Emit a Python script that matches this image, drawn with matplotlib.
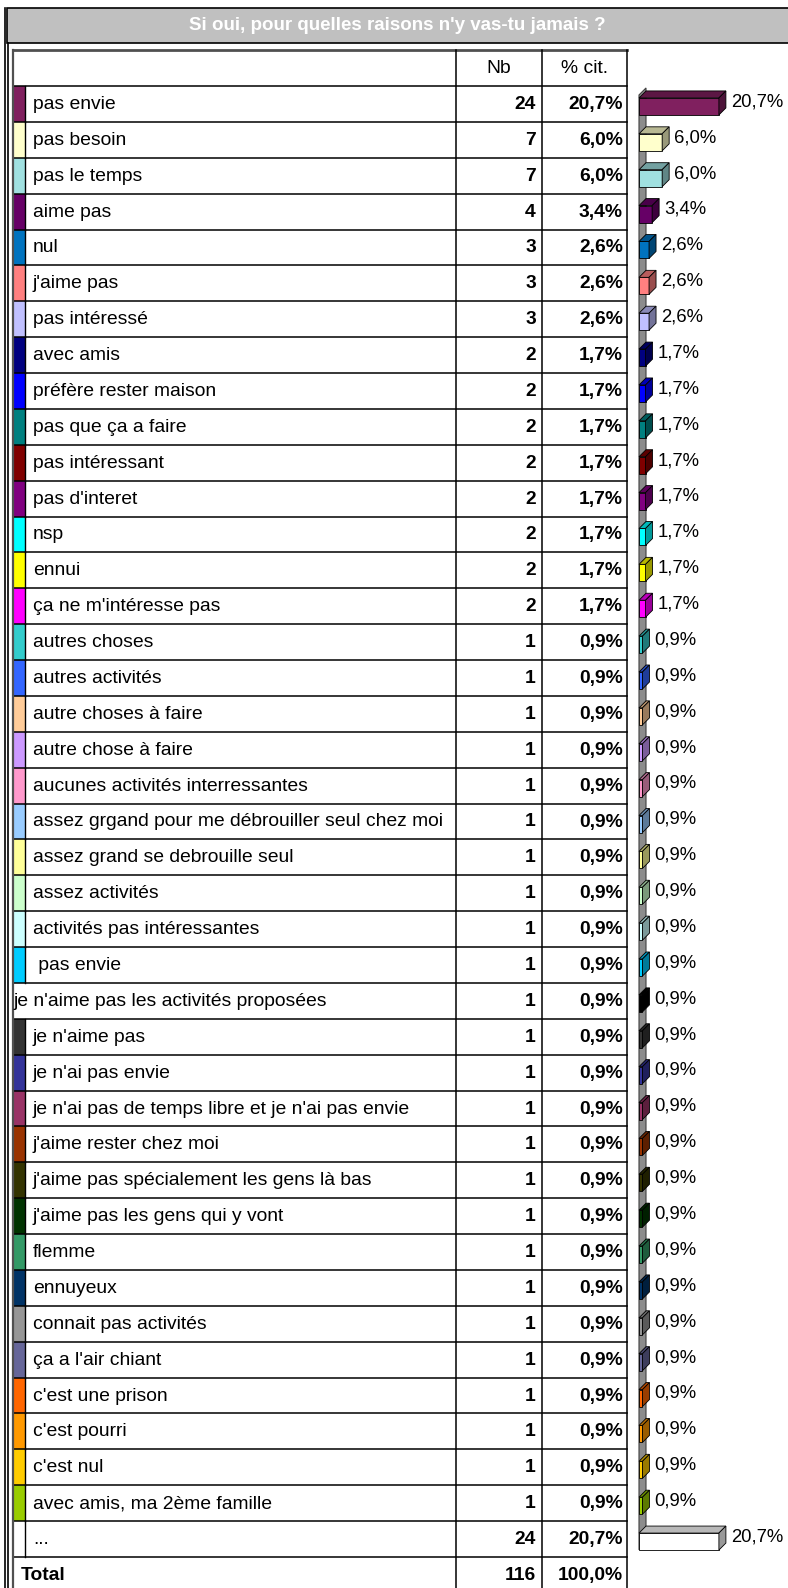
import matplotlib
matplotlib.use("Agg")
import matplotlib.pyplot as plt
import matplotlib.colors as mcolors
from matplotlib.patches import Rectangle, Polygon

plt.rcParams["font.family"] = ["Liberation Sans", "DejaVu Sans"]

TITLE = "Si oui, pour quelles raisons n'y vas-tu jamais ?"
HEADERS = ["Nb", "% cit."]

LABELS = [
    "pas envie", "pas besoin", "pas le temps", "aime pas", "nul", "j'aime pas",
    "pas intéressé", "avec amis", "préfère rester maison", "pas que ça a faire",
    "pas intéressant", "pas d'interet", "nsp", "ennui", "ça ne m'intéresse pas",
    "autres choses", "autres activités", "autre choses à faire", "autre chose à faire",
    "aucunes activités interressantes", "assez grgand pour me débrouiller seul chez moi",
    "assez grand se debrouille seul", "assez activités", "activités pas intéressantes",
    " pas envie", "je n'aime pas les activités proposées", "je n'aime pas",
    "je n'ai pas envie", "je n'ai pas de temps libre et je n'ai pas envie",
    "j'aime rester chez moi", "j'aime pas spécialement les gens là bas",
    "j'aime pas les gens qui y vont", "flemme", "ennuyeux", "connait pas activités",
    "ça a l'air chiant", "c'est une prison", "c'est pourri", "c'est nul",
    "avec amis, ma 2ème famille", "...",
]
COUNTS = [24, 7, 7, 4, 3, 3, 3, 2, 2, 2, 2, 2, 2, 2, 2] + [1] * 25 + [24]
PCTS = [20.7, 6.0, 6.0, 3.4, 2.6, 2.6, 2.6, 1.7, 1.7, 1.7, 1.7, 1.7, 1.7, 1.7, 1.7] \
    + [0.9] * 25 + [20.7]
COLORS = [
    "#80205F", "#FFFFCC", "#A0E0E0", "#660066", "#0073BF", "#FF8080", "#C0C0FF",
    "#000080", "#0000FF", "#008080", "#800000", "#800080", "#00FFFF", "#FFFF00",
    "#FF00FF", "#33CCCC", "#3366FF", "#FFCC99", "#CC99FF", "#FF99CC", "#99CCFF",
    "#FFFF99", "#CCFFCC", "#CCFFFF", "#00CCFF", "#000000", "#333333", "#333399",
    "#993366", "#993300", "#333300", "#003300", "#339966", "#003366", "#969696",
    "#666699", "#FF6600", "#FF9900", "#FFCC00", "#99CC00", "#FFFFFF",
]
NO_STRIP = {"je n'aime pas les activités proposées"}
TOTAL_NB = 116
TOTAL_PCT = 100.0

W, H = 788, 1588
ROW_H = (1557 - 86) / 41
TAB_TOP = 86
X_LEFT, X_STRIP, X_NB, X_PCT, X_RIGHT = 13, 25, 456, 542, 627
PX_PER_PCT = 3.86
FS = 13.9
TY = -1.5  # small upward nudge of cell text


def fmt_pct(v):
    return f"{v:.1f}%".replace(".", ",")


def darker(c, f=0.72):
    r, g, b = mcolors.to_rgb(c)
    return (r * f, g * f, b * f)


fig = plt.figure(figsize=(W / 100, H / 100), dpi=100)
ax = fig.add_axes([0, 0, 1, 1])
ax.set_xlim(0, W)
ax.set_ylim(H, 0)
ax.axis("off")

# outer frame + title bar
ax.add_patch(Rectangle((7, 8), W + 5 - 7, 35, facecolor="#C0C0C0", edgecolor="black",
                       lw=1.2, clip_on=False))
ax.plot([5.5, 5.5], [8, H], color="black", lw=1.2)
ax.plot([8.5, 8.5], [43, H], color="black", lw=1.2)
ax.text((7 + W) / 2, 25, TITLE, color="white", fontsize=13.5, fontweight="bold",
        ha="center", va="center")

n = len(LABELS)
tab_bottom = TAB_TOP + (n + 1) * ROW_H

# header
ax.plot([X_LEFT, X_RIGHT], [50, 50], color="#505050", lw=2)
ax.text((X_NB + X_PCT) / 2, 68 + TY, HEADERS[0], fontsize=FS, ha="center",
        va="center_baseline")
ax.text((X_PCT + X_RIGHT) / 2, 68 + TY, HEADERS[1], fontsize=FS, ha="center",
        va="center_baseline")

# rows
for i, (lab, nb, p, c) in enumerate(zip(LABELS, COUNTS, PCTS, COLORS)):
    y0 = TAB_TOP + i * ROW_H
    yc = y0 + ROW_H / 2 + TY
    if lab in NO_STRIP:
        ax.text(X_LEFT + 1, yc, lab, fontsize=FS, ha="left", va="center_baseline")
    else:
        ax.add_patch(Rectangle((X_LEFT, y0), X_STRIP - X_LEFT, ROW_H,
                               facecolor=c, edgecolor="none"))
        ax.plot([X_STRIP, X_STRIP], [y0, y0 + ROW_H], color="black", lw=1)
        ax.text(X_STRIP + 8, yc, lab, fontsize=FS, ha="left", va="center_baseline")
    ax.text(X_PCT - 6, yc, str(nb), fontsize=FS, fontweight="bold", ha="right",
            va="center_baseline")
    ax.text(X_RIGHT - 4, yc, fmt_pct(p), fontsize=FS, fontweight="bold", ha="right",
            va="center_baseline")

# total row
yt = TAB_TOP + n * ROW_H + ROW_H / 2 + TY
ax.text(X_LEFT + 8, yt, "Total", fontsize=FS, fontweight="bold", ha="left",
        va="center_baseline")
ax.text(X_PCT - 6, yt, str(TOTAL_NB), fontsize=FS, fontweight="bold", ha="right",
        va="center_baseline")
ax.text(X_RIGHT - 4, yt, fmt_pct(TOTAL_PCT), fontsize=FS, fontweight="bold", ha="right",
        va="center_baseline")

# grid lines
for k in range(n + 1):
    y = TAB_TOP + k * ROW_H
    ax.plot([X_LEFT, X_RIGHT], [y, y], color="black", lw=1.1)
for x in (X_NB, X_PCT, X_RIGHT):
    ax.plot([x, x], [50, tab_bottom], color="black", lw=1.1)
ax.plot([X_LEFT, X_LEFT], [50, tab_bottom], color="#505050", lw=1.6)

# 3D bar chart
bx0 = 639
axb = fig.add_axes([bx0 / W, 1 - (TAB_TOP + n * ROW_H) / H, (W - bx0) / W, n * ROW_H / H])
axb.set_xlim(0, (W - bx0) / PX_PER_PCT)
axb.set_ylim(n - 0.5, -0.5)
axb.axis("off")

dx = 7 / PX_PER_PCT
dy = 7 / ROW_H
h = 17 / ROW_H
off = 2.5 / ROW_H

wall_top, wall_bot = -0.25, n - 0.5 - 0.2
axb.add_patch(Polygon([(0, wall_bot), (dx, wall_bot - dy), (dx, wall_top - dy), (0, wall_top)],
                      closed=True, facecolor="#8C8C8C", edgecolor="#404040", lw=0.8,
                      clip_on=False, zorder=1))

for i, (p, c) in enumerate(zip(PCTS, COLORS)):
    yc = i + off
    top = yc - h / 2
    bot = yc + h / 2
    axb.barh(yc, p, height=h, left=0, color=c, edgecolor="black", lw=0.6, zorder=3,
             clip_on=False)
    axb.add_patch(Polygon([(0, top), (p, top), (p + dx, top - dy), (dx, top - dy)],
                          closed=True, facecolor=darker(c), edgecolor="black", lw=0.6,
                          clip_on=False, zorder=3))
    axb.add_patch(Polygon([(p, top), (p + dx, top - dy), (p + dx, bot - dy), (p, bot)],
                          closed=True, facecolor=darker(c, 0.6), edgecolor="black", lw=0.6,
                          clip_on=False, zorder=3))
    axb.text(p + dx + 5 / PX_PER_PCT, i - 0.06, fmt_pct(p), fontsize=13.3,
             ha="left", va="center", zorder=4)

fig.savefig("out.png", dpi=100)
